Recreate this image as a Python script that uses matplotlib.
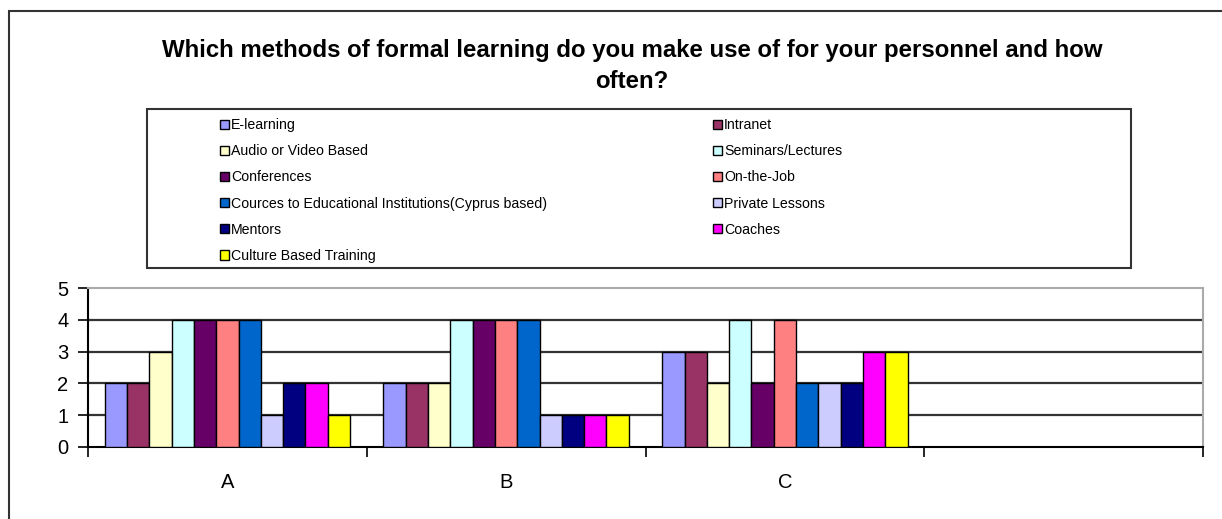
import numpy as np
import matplotlib
matplotlib.use("Agg")
import matplotlib.pyplot as plt
from matplotlib.patches import Rectangle

plt.rcParams['font.family'] = ['Liberation Sans', 'DejaVu Sans']

# data
groups = ["A", "B", "C", ""]
methods = ["E-learning", "Intranet", "Audio or Video Based", "Seminars/Lectures",
           "Conferences", "On-the-Job",
           "Cources to Educational Institutions(Cyprus based)", "Private Lessons",
           "Mentors", "Coaches", "Culture Based Training"]
colors = ["#9999FF", "#993366", "#FFFFCC", "#CCFFFF", "#660066", "#FF8080",
          "#0066CC", "#CCCCFF", "#000080", "#FF00FF", "#FFFF00"]
val_A = [2, 2, 3, 4, 4, 4, 4, 1, 2, 2, 1]
val_B = [2, 2, 2, 4, 4, 4, 4, 1, 1, 1, 1]
val_C = [3, 3, 2, 4, 2, 4, 2, 2, 2, 3, 3]

W, H = 1222, 519
fig = plt.figure(figsize=(W / 100, H / 100), dpi=100)

def fx(px):
    return px / W

def fy(py):
    return 1 - py / H

# outer chart frame (top and left edges visible)
fig.add_artist(Rectangle((fx(9), -0.2), 1.5, fy(11) + 0.2, transform=fig.transFigure,
                         fill=False, edgecolor="#333333", lw=1.5))

ax = fig.add_axes([fx(88), fy(447), fx(1203) - fx(88), fy(288) - fy(447)])

data = np.array([val_A, val_B, val_C])
x = np.arange(len(data))
bw = 0.08
handles = []
for i, m in enumerate(methods):
    off = (i - (len(methods) - 1) / 2) * bw
    b = ax.bar(x + off, data[:, i], width=bw, color=colors[i], edgecolor="black",
               linewidth=1, label=m, zorder=3)
    handles.append(b)

ax.set_xlim(-0.5, 3.5)
ax.set_ylim(0, 5)
ax.set_yticks(range(6))
ax.set_xticks(range(4))
ax.set_xticklabels(groups)
ax.set_xticks(np.arange(-0.5, 4, 1), minor=True)
ax.tick_params(axis="x", which="major", length=0, pad=19, labelsize=14.5)
ax.tick_params(axis="x", which="minor", length=7, width=1.2, direction="out", color="black")
ax.tick_params(axis="y", length=7, width=1.2, direction="out", labelsize=14.5, pad=7)

for yv in range(1, 5):
    ax.axhline(yv, color="#333333", lw=1.6, zorder=1)
ax.spines["top"].set_color("#aaaaaa")
ax.spines["right"].set_color("#aaaaaa")
ax.spines["top"].set_linewidth(1.5)
ax.spines["right"].set_linewidth(1.5)
ax.spines["left"].set_linewidth(1.5)
ax.spines["bottom"].set_linewidth(1.5)

fig.text(fx(632), fy(66), "Which methods of formal learning do you make use of for your personnel and how\noften?",
         ha="center", va="center", fontsize=17.3, fontweight="bold", linespacing=1.5)

# legend box
fig.add_artist(Rectangle((fx(147), fy(268)), fx(1131) - fx(147), fy(109) - fy(268),
                         transform=fig.transFigure, fill=False, edgecolor="#333333", lw=1.5))

leg_kw = dict(frameon=False, fontsize=10.2, handlelength=0.62, handleheight=0.62,
              handletextpad=0.15, labelspacing=0.86, borderpad=0, loc="upper left")
col1 = [0, 2, 4, 6, 8, 10]
col2 = [1, 3, 5, 7, 9]
leg1 = fig.legend([handles[i] for i in col1], [methods[i] for i in col1],
                  bbox_to_anchor=(fx(213), fy(111)), **leg_kw)
leg2 = fig.legend([handles[i] for i in col2], [methods[i] for i in col2],
                  bbox_to_anchor=(fx(706), fy(111)), **leg_kw)

fig.savefig("out.png", dpi=100)
